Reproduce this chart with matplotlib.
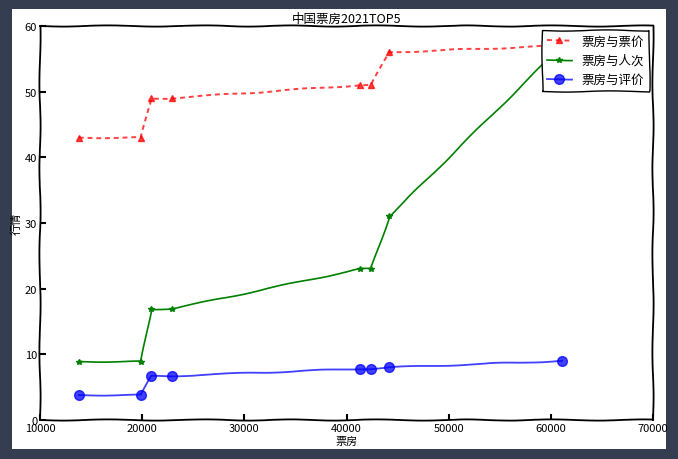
import matplotlib
matplotlib.use("Agg")
import matplotlib.pyplot as plt
from matplotlib.patches import Rectangle

# datos
piaofang = [13800, 19900, 20900, 22900, 41300, 42400, 44200, 61100]
piaojia = [43, 43, 49, 49, 51, 51, 56, 57]
renci = [8.9, 8.9, 16.9, 16.9, 23, 23, 31, 57]
pingjia = [3.8, 3.8, 6.7, 6.7, 7.8, 7.8, 8.0, 9]

plt.xkcd(scale=0.6, length=100, randomness=2)
plt.rcParams['font.family'] = ['Noto Sans CJK SC', 'DejaVu Sans']
plt.rcParams['font.size'] = 8
plt.rcParams['path.effects'] = []
plt.rcParams['axes.unicode_minus'] = False

fig = plt.figure(figsize=(6.78, 4.60), dpi=100, facecolor='#353e50')
# fondo blanco dentro del marco oscuro
fondo = Rectangle((12 / 678, 10 / 460), 654 / 678, 440 / 460,
                  transform=fig.transFigure, facecolor='white',
                  edgecolor='none', zorder=-5)
fondo.set_sketch_params(None)
fig.patches.append(fondo)

ax = fig.add_axes([40 / 678, 39 / 460, 613 / 678, 394 / 460], zorder=1)

ax.plot(piaofang, piaojia, 'r--^', alpha=0.75, lw=1.4, markersize=5,
        dashes=(2.5, 2), label='票房与票价')
ax.plot(piaofang, renci, 'g-*', lw=1.2, markersize=4, label='票房与人次')
ax.plot(piaofang, pingjia, 'b-o', alpha=0.75, lw=1.3, markersize=7, label='票房与评价')

ax.set_xlim(10000, 70000)
ax.set_ylim(0, 60)
ax.set_title('中国票房2021TOP5', fontsize=9, pad=3)
ax.set_xlabel('票房', fontsize=8, labelpad=2)
ax.set_ylabel('行情', fontsize=8, labelpad=2)
ax.tick_params(labelsize=8, length=4, width=1.5, direction='in', pad=2)
for s in ax.spines.values():
    s.set_linewidth(1.3)

leg = ax.legend(loc='upper right', fontsize=9, borderaxespad=0.3,
                handlelength=2, framealpha=1, fancybox=False)
leg.get_frame().set_edgecolor('black')

fig.savefig('out.png', dpi=100, facecolor=fig.get_facecolor())
